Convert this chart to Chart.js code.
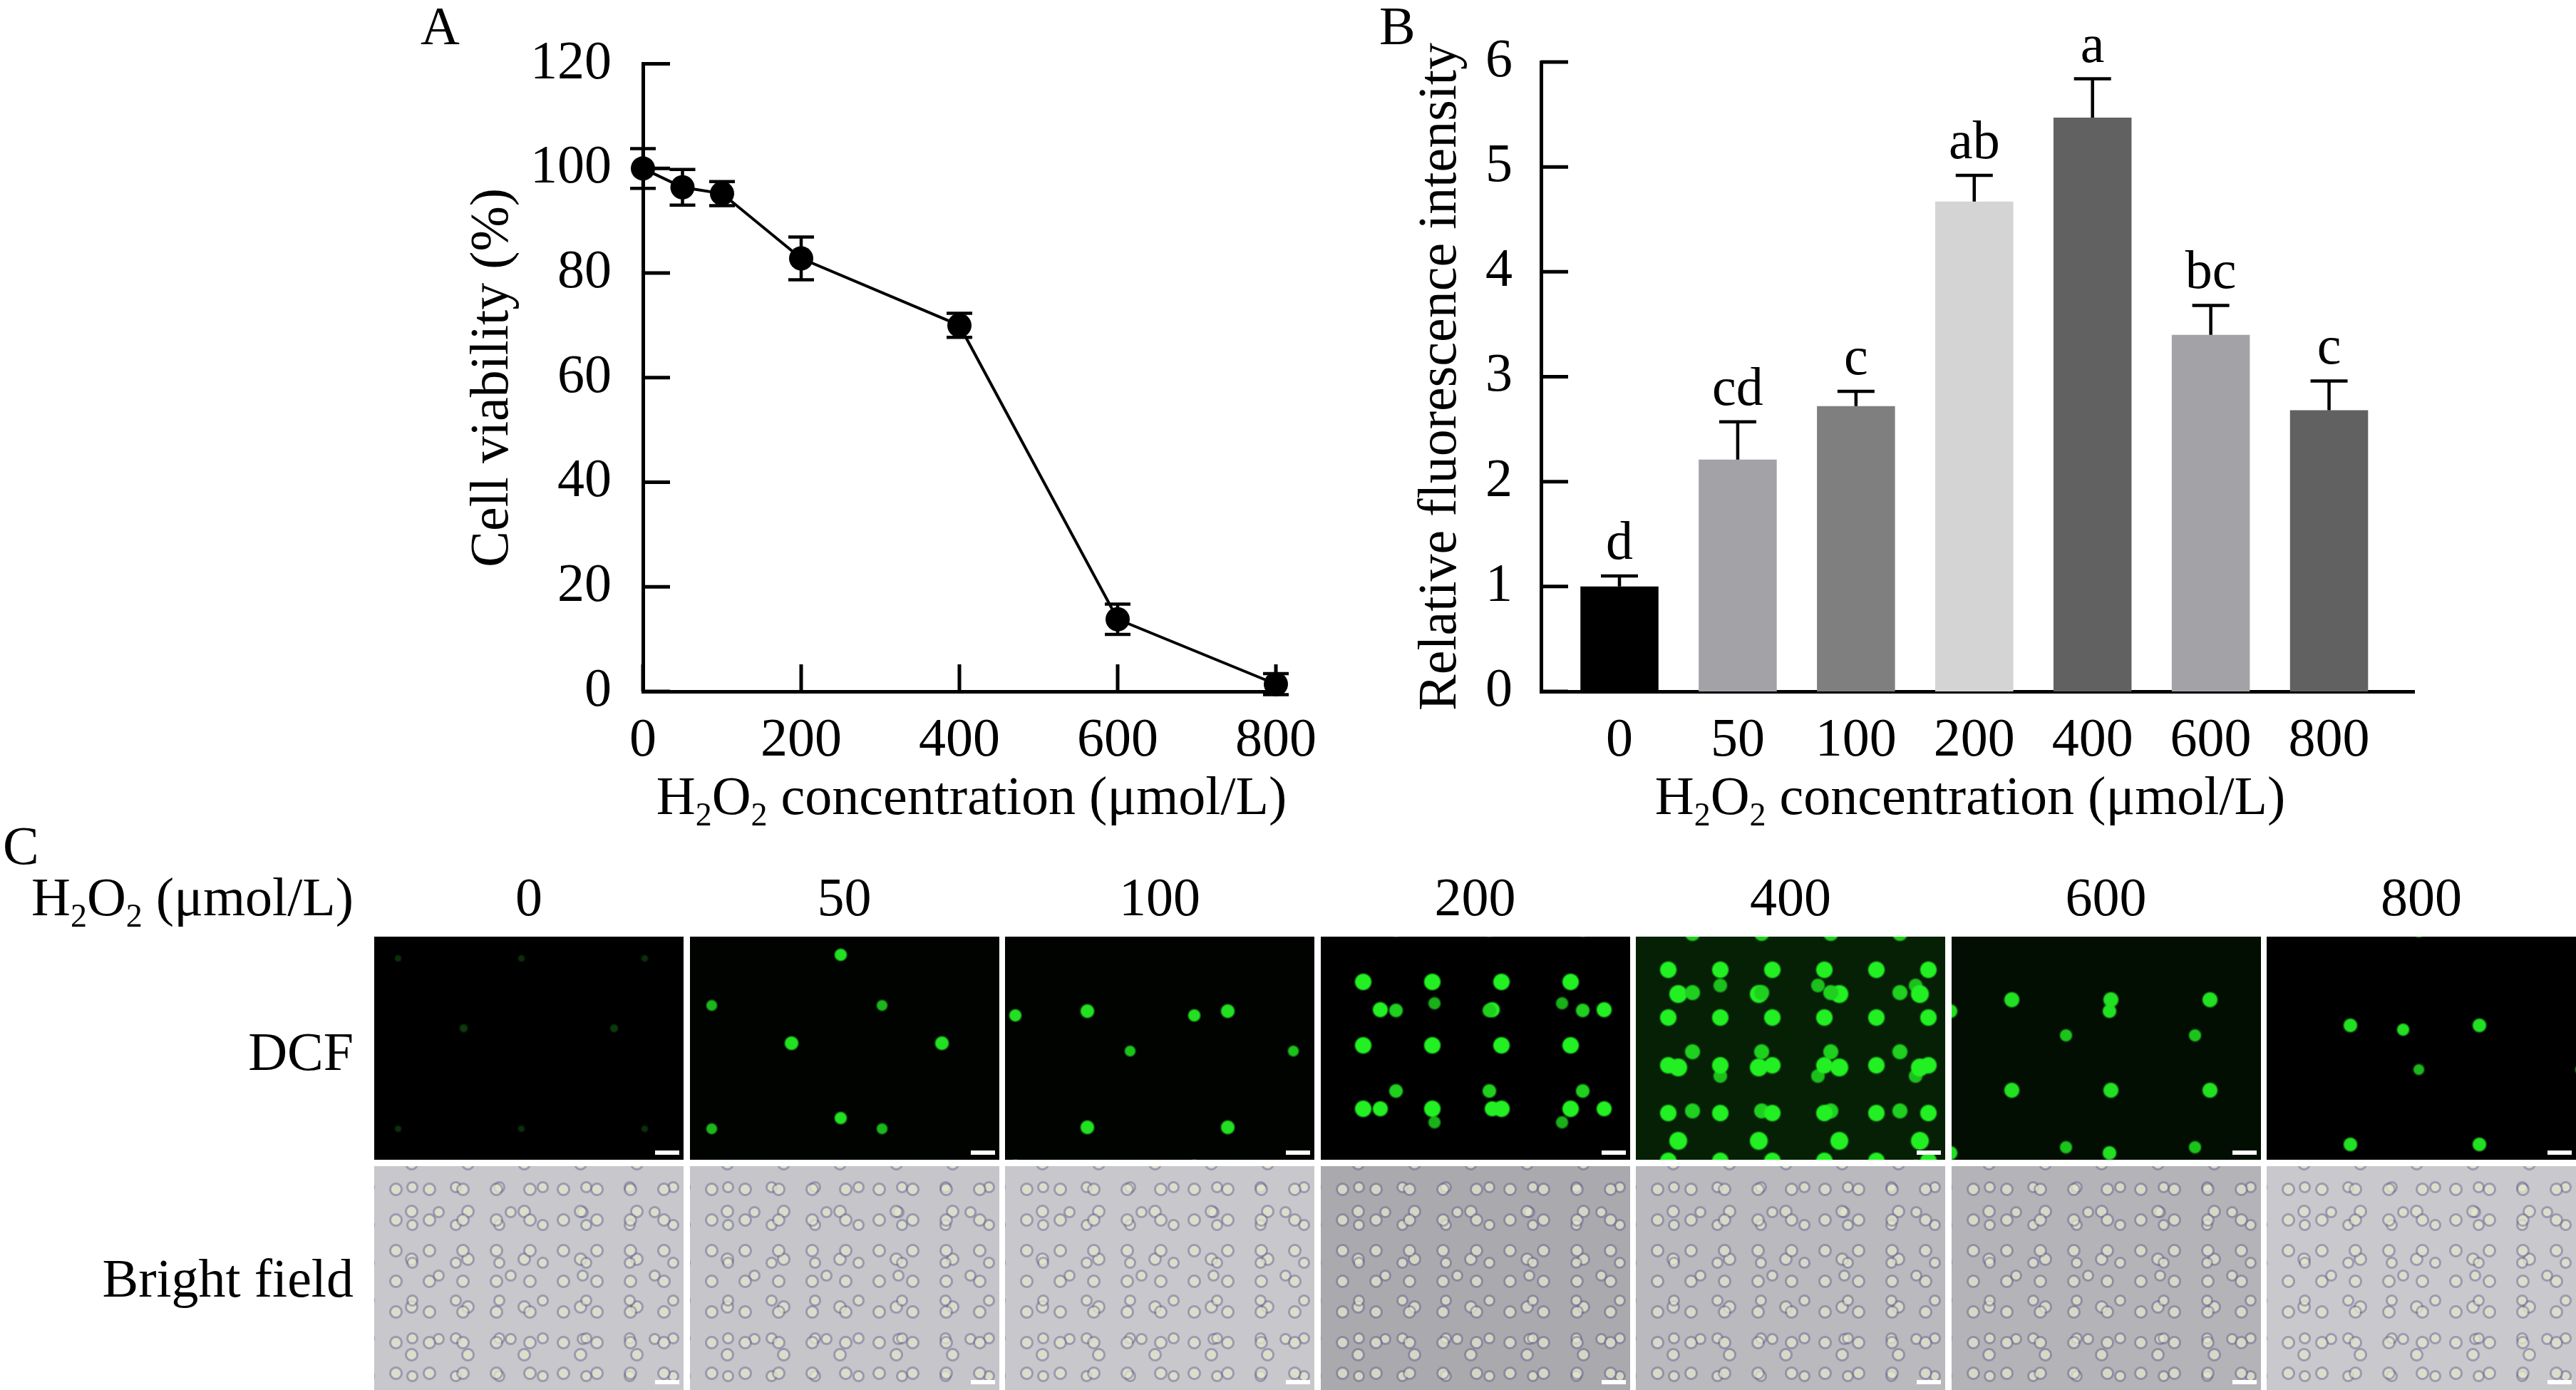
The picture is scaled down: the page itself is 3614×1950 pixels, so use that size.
<!DOCTYPE html>
<html lang="en">
<head>
  <meta charset="UTF-8">
  <title>H2O2 cell viability and ROS fluorescence</title>
  <script src="https://cdn.jsdelivr.net/npm/chart.js"></script>
  <style>
    html, body { margin: 0; padding: 0; background: #fff; }
    #page { position: relative; width: 3614px; height: 1950px; overflow: hidden; background: #fff;
            font-family: 'Liberation Serif', 'Times New Roman', serif; color: #000; }
    canvas { position: absolute; top: 0; }
    #viabilityChart { left: 0; }
    #fluorChart { left: 1880px; }
    .txt { position: absolute; font-size: 76px; line-height: 76px; white-space: nowrap; }
    .txt sub { font-size: 46px; vertical-align: -16px; line-height: 0; }
    .mid { transform: translateX(-50%); }
    .right { transform: translateX(-100%); }
    .img { position: absolute; width: 434px; }
    .bar { position: absolute; width: 34px; height: 6px; background: #fff; right: 6px; }
  </style>
</head>
<body>
<div id="page">
  <canvas id="viabilityChart" width="1880" height="1180"></canvas>
  <canvas id="fluorChart" width="1734" height="1180"></canvas>

  <div class="txt" style="left:590px; top:-2px;">A</div>
  <div class="txt" style="left:1935px; top:-2px;">B</div>
  <div class="txt" style="left:4px; top:1148px;">C</div>

  <div class="txt mid" style="left:1363px; top:1078px;">H<sub>2</sub>O<sub>2</sub> concentration (μmol/L)</div>
  <div class="txt mid" style="left:2764px; top:1078px;">H<sub>2</sub>O<sub>2</sub> concentration (μmol/L)</div>

  <div class="txt right" style="left:496px; top:1220px;">H<sub>2</sub>O<sub>2</sub> (μmol/L)</div>
  <div class="txt right" style="left:496px; top:1437px;">DCF</div>
  <div class="txt right" style="left:496px; top:1755px;">Bright field</div>
  <div id="panelC"></div>
</div>

<script>
  // Panel A: cell viability
  const doseValues = [0, 50, 100, 200, 400, 600, 800];
  const viabilityMean = [100.0, 96.4, 95.2, 82.8, 70.0, 13.8, 1.4];
  const viabilitySd = [3.8, 3.4, 2.3, 4.1, 2.3, 2.9, 2.0];
  const viabilityYTicks = [0, 20, 40, 60, 80, 100, 120];
  const viabilityXTicks = [0, 200, 400, 600, 800];

  // Panel B: relative fluorescence
  const doseLabels = ['0', '50', '100', '200', '400', '600', '800'];
  const fluorMean = [1.00, 2.21, 2.72, 4.67, 5.47, 3.40, 2.68];
  const fluorSd = [0.10, 0.36, 0.14, 0.25, 0.37, 0.28, 0.28];
  const fluorLetters = ['d', 'cd', 'c', 'ab', 'a', 'bc', 'c'];
  const fluorYTicks = [0, 1, 2, 3, 4, 5, 6];

  const barColors = ['#000000', '#a3a3a7', '#7f7f7f', '#d4d4d4', '#616161', '#a3a3a7', '#616161'];

  Chart.defaults.font.family = "'Liberation Serif', 'Times New Roman', serif";
  Chart.defaults.font.size = 76;
  Chart.defaults.color = '#000';

  // ticks that point into the plot area
  const innerTicks = {
    id: 'innerTicks',
    afterDraw(chart, args, opts) {
      const ctx = chart.ctx, a = chart.chartArea;
      ctx.save();
      ctx.strokeStyle = '#000';
      ctx.lineWidth = opts.width;
      ctx.beginPath();
      (opts.y || []).forEach(v => {
        const py = chart.scales.y.getPixelForValue(v);
        ctx.moveTo(a.left, py);
        ctx.lineTo(a.left + opts.len, py);
      });
      (opts.x || []).forEach(v => {
        const px = chart.scales.x.getPixelForValue(v);
        ctx.moveTo(px, a.bottom);
        ctx.lineTo(px, a.bottom - opts.len);
      });
      ctx.stroke();
      ctx.restore();
    }
  };

  // mean +/- sd whiskers, optional letters on top
  const errorBars = {
    id: 'errorBars',
    afterDatasetsDraw(chart, args, opts) {
      const ctx = chart.ctx, y = chart.scales.y;
      const meta = chart.getDatasetMeta(0);
      ctx.save();
      ctx.strokeStyle = '#000';
      ctx.lineWidth = opts.width;
      meta.data.forEach((el, i) => {
        const px = el.x;
        const top = y.getPixelForValue(opts.mean[i] + opts.sd[i]);
        const bottom = opts.upOnly ? el.y : y.getPixelForValue(opts.mean[i] - opts.sd[i]);
        ctx.beginPath();
        ctx.moveTo(px, bottom);
        ctx.lineTo(px, top);
        ctx.moveTo(px - opts.cap / 2, top);
        ctx.lineTo(px + opts.cap / 2, top);
        if (!opts.upOnly) {
          ctx.moveTo(px - opts.cap / 2, bottom);
          ctx.lineTo(px + opts.cap / 2, bottom);
        }
        ctx.stroke();
        if (opts.letters) {
          ctx.fillStyle = '#000';
          ctx.font = "76px 'Liberation Serif', 'Times New Roman', serif";
          ctx.textAlign = 'center';
          ctx.textBaseline = 'alphabetic';
          ctx.fillText(opts.letters[i], px, top - 24);
        }
      });
      ctx.restore();
    }
  };

  new Chart(document.getElementById('viabilityChart'), {
    type: 'line',
    data: {
      datasets: [{
        data: doseValues.map((d, i) => ({ x: d, y: viabilityMean[i] })),
        borderColor: '#000',
        borderWidth: 4,
        backgroundColor: '#000',
        pointBackgroundColor: '#000',
        pointBorderWidth: 0,
        pointRadius: 17,
        tension: 0,
        clip: false
      }]
    },
    options: {
      responsive: false,
      animation: false,
      layout: { padding: { left: 646, top: 87, right: 90, bottom: 0 } },
      plugins: {
        legend: { display: false },
        tooltip: { enabled: false },
        innerTicks: { x: viabilityXTicks, y: viabilityYTicks, len: 38, width: 5 },
        errorBars: { mean: viabilityMean, sd: viabilitySd, cap: 36, width: 4.5, upOnly: false }
      },
      scales: {
        x: {
          type: 'linear', min: 0, max: 800,
          afterBuildTicks: s => { s.ticks = viabilityXTicks.map(v => ({ value: v })); },
          afterFit: s => { s.height = 210; },
          ticks: { padding: 24, maxRotation: 0 },
          grid: { display: false, drawTicks: false },
          border: { display: true, color: '#000', width: 5 }
        },
        y: {
          min: 0, max: 120,
          afterBuildTicks: s => { s.ticks = viabilityYTicks.map(v => ({ value: v })); },
          afterFit: s => { s.width = 256; },
          ticks: { padding: 44 },
          grid: { display: false, drawTicks: false },
          border: { display: true, color: '#000', width: 5 },
          title: { display: true, text: 'Cell viability (%)', padding: 0 }
        }
      }
    },
    plugins: [innerTicks, errorBars]
  });

  new Chart(document.getElementById('fluorChart'), {
    type: 'bar',
    data: {
      datasets: [{
        data: doseLabels.map((d, i) => ({ x: i, y: fluorMean[i] })),
        backgroundColor: barColors,
        borderWidth: 0,
        categoryPercentage: 1,
        barPercentage: 0.66
      }]
    },
    options: {
      responsive: false,
      animation: false,
      layout: { padding: { left: 96, top: 87, right: 227, bottom: 0 } },
      plugins: {
        legend: { display: false },
        tooltip: { enabled: false },
        innerTicks: { y: fluorYTicks, len: 38, width: 5 },
        errorBars: { mean: fluorMean, sd: fluorSd, cap: 52, width: 4.5, upOnly: true, letters: fluorLetters }
      },
      scales: {
        x: {
          type: 'linear', min: -0.663, max: 6.72, offset: false,
          afterBuildTicks: s => { s.ticks = doseLabels.map((d, i) => ({ value: i })); },
          afterFit: s => { s.height = 210; },
          ticks: { padding: 24, maxRotation: 0, autoSkip: false, callback: v => doseLabels[v] },
          grid: { display: false, drawTicks: false, offset: false },
          border: { display: true, color: '#000', width: 5 }
        },
        y: {
          min: 0, max: 6,
          afterBuildTicks: s => { s.ticks = fluorYTicks.map(v => ({ value: v })); },
          afterFit: s => { s.width = 186; },
          ticks: { padding: 40 },
          grid: { display: false, drawTicks: false },
          border: { display: true, color: '#000', width: 5 },
          title: { display: true, text: 'Relative fluorescence intensity', padding: 0 }
        }
      }
    },
    plugins: [innerTicks, errorBars]
  });

  // Panel C: micrograph tiles (CSS textures only stand in for the photos)
  function dots(color, r, x, y, w, h) {
    return `radial-gradient(circle, ${color} 0 ${r}px, rgba(0,0,0,0) ${r + 3}px) ${x}px ${y}px / ${w}px ${h}px`;
  }
  function ring(r, x, y, w, h) {
    return `radial-gradient(circle, rgba(228,228,205,0.75) 0 ${r}px, rgba(100,100,140,0.45) ${r + 1}px ${r + 3}px, rgba(0,0,0,0) ${r + 4}px) ${x}px ${y}px / ${w}px ${h}px`;
  }
  const dcfTextures = [
    [dots('#0b3a0b', 4, 20, 30, 211, 197), dots('#0a300a', 3, 120, 150, 173, 239)],
    [dots('#22e022', 8, 37, 51, 211, 197), dots('#1bb81b', 6, 150, 10, 239, 173), dots('#22e022', 7, 80, 140, 263, 229)],
    [dots('#22e022', 8, 17, 23, 197, 163), dots('#1bc41b', 6, 61, 70, 229, 181), dots('#22e022', 7, 140, 5, 251, 211)],
    [dots('#22f022', 10, 11, 19, 97, 89), dots('#1fd01f', 8, 40, 47, 131, 113), dots('#22f022', 9, 5, 33, 157, 139), dots('#19b019', 7, 70, 10, 179, 167)],
    [dots('#22f022', 10, 9, 13, 73, 67), dots('#1fd01f', 9, 31, 37, 97, 83), dots('#22f022', 11, 3, 29, 113, 103), dots('#1cc01c', 8, 50, 5, 137, 127)],
    [dots('#22e022', 9, 15, 25, 139, 127), dots('#1bc41b', 7, 70, 60, 181, 157), dots('#22e022', 8, 110, 5, 223, 199)],
    [dots('#22e022', 8, 27, 41, 181, 167), dots('#1bb81b', 6, 100, 90, 227, 193), dots('#22e022', 7, 60, 10, 263, 241)]
  ];
  const dcfBg = ['#000', '#010301', '#010301', '#000', '#062006', '#020e02', '#000'];
  const brightBg = ['#c7c7cc', '#c5c5ca', '#c8c8cc', '#aaaaae', '#b9b9be', '#b4b4b8', '#c9c9cd'];
  const cellTexture = [ring(6, 7, 11, 47, 43), ring(5, 23, 3, 61, 53), ring(6, 13, 30, 79, 67), ring(5, 40, 20, 101, 89)].join(', ');

  const panelC = document.getElementById('panelC');
  doseLabels.forEach((label, i) => {
    const left = 525 + i * 442.5;
    const head = document.createElement('div');
    head.className = 'txt mid';
    head.style.left = (left + 217) + 'px';
    head.style.top = '1220px';
    head.textContent = label;
    panelC.appendChild(head);

    const dcf = document.createElement('div');
    dcf.className = 'img';
    dcf.style.cssText = `left:${left}px; top:1314px; height:313px;`;
    dcf.style.background = dcfTextures[i].join(', ') + ', ' + dcfBg[i];
    dcf.innerHTML = '<div class="bar" style="bottom:7px"></div>';
    panelC.appendChild(dcf);

    const bf = document.createElement('div');
    bf.className = 'img';
    bf.style.cssText = `left:${left}px; top:1636px; height:314px;`;
    bf.style.background = cellTexture + ', ' + brightBg[i];
    bf.innerHTML = '<div class="bar" style="bottom:8px"></div>';
    panelC.appendChild(bf);
  });
</script>
</body>
</html>
